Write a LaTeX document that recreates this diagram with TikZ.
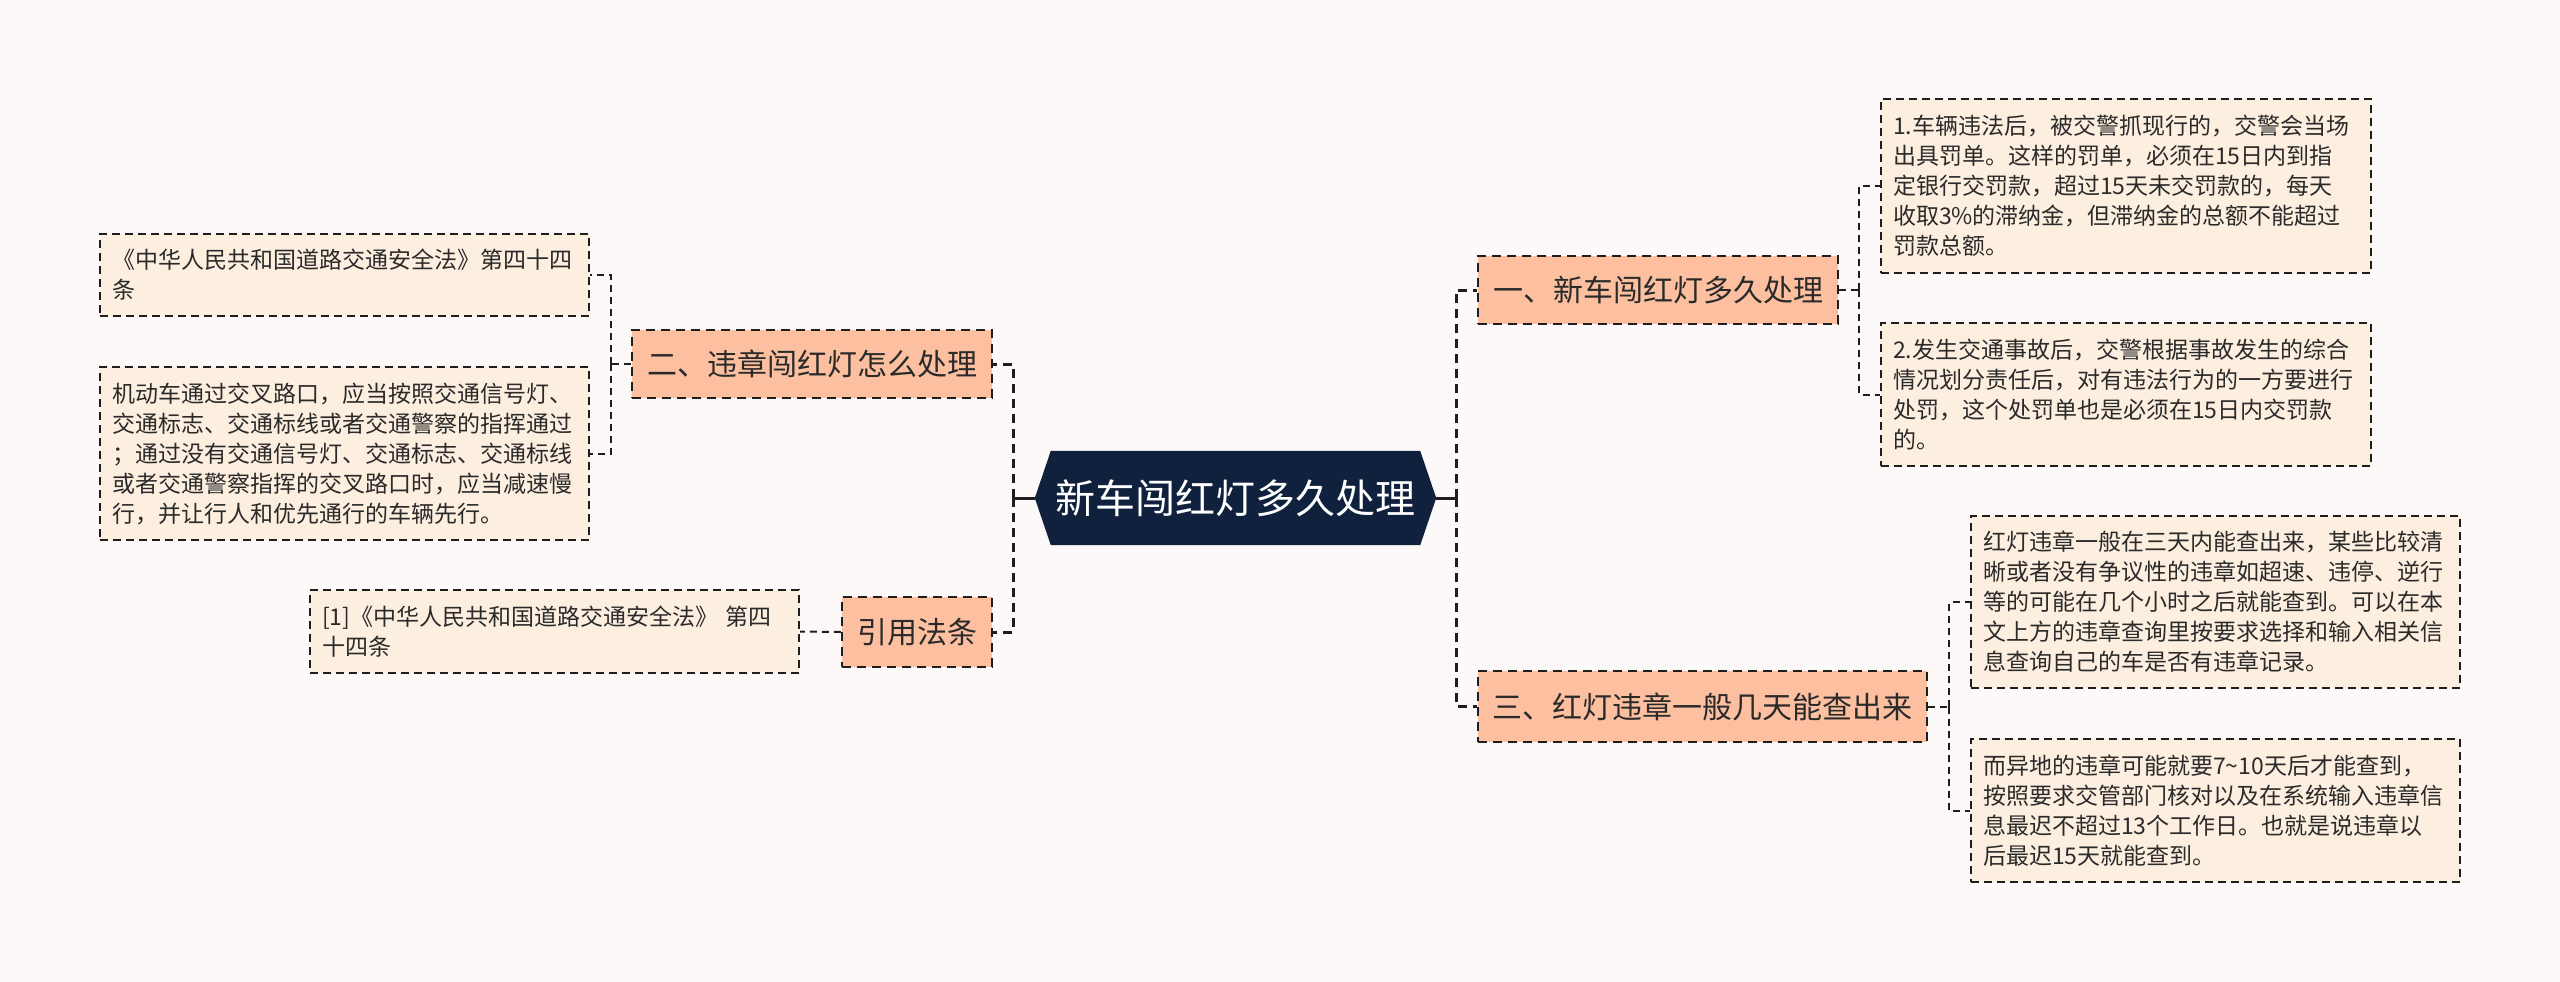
\documentclass[tikz,border=0pt]{standalone}
\usepackage{fontspec}
\setmainfont{Noto Sans CJK SC}
\pgfdeclarelayer{background}
\pgfsetlayers{background,main}
\definecolor{bgc}{HTML}{FDF9F8}
\definecolor{lvlfill}{HTML}{FCC0A0}
\definecolor{leaffill}{HTML}{FDEFE0}
\definecolor{navyc}{HTML}{0F213D}
\definecolor{linec}{HTML}{1E1E1E}
\definecolor{txtc}{HTML}{2A2A2A}
\newcommand\leaffont{\fontsize{23}{30}\selectfont}
\newcommand\lvlfont{\fontsize{30}{36}\selectfont}
\newcommand\ctrfont{\fontsize{40}{48}\selectfont}
\tikzset{
  conn/.style={draw=linec, line width=3pt, dash pattern=on 9pt off 6pt},
  thinconn/.style={draw=linec, line width=2pt, dash pattern=on 7pt off 5pt},
  lvl/.style={draw=linec, fill=lvlfill, line width=2.4pt, dash pattern=on 9pt off 6pt,
    inner sep=0pt, font=\lvlfont, text=txtc},
  leaf/.style={draw=linec, fill=leaffill, line width=2.2pt, dash pattern=on 8pt off 5pt,
    inner xsep=12pt, inner ysep=0pt, align=left, font=\leaffont, text=txtc},
}
\begin{document}
\begin{tikzpicture}[x=1pt,y=-1pt]
\useasboundingbox (0,0) rectangle (2560,982);
\begin{pgfonlayer}{background}
\fill[bgc] (0,0) rectangle (2560,982);
\end{pgfonlayer}

% central node
\node[minimum width=401pt, minimum height=94pt, inner sep=0pt, font=\ctrfont, text=white] (c) at (1235.5,498) {新车闯红灯多久处理};
\begin{pgfonlayer}{background}
\fill[navyc] (c.west) -- ([xshift=16pt]c.north west) -- ([xshift=-16pt]c.north east) -- (c.east)
  -- ([xshift=-16pt]c.south east) -- ([xshift=16pt]c.south west) -- cycle;
\end{pgfonlayer}

% level 1
\node[lvl, minimum width=360pt, minimum height=68pt] (n1) at (1658,290) {一、新车闯红灯多久处理};
\node[lvl, minimum width=449pt, minimum height=71pt] (n3) at (1702.5,706.5) {三、红灯违章一般几天能查出来};
\node[lvl, minimum width=360pt, minimum height=68pt] (n2) at (812,364) {二、违章闯红灯怎么处理};
\node[lvl, minimum width=150pt, minimum height=70pt] (n4) at (917,632) {引用法条};

% leaves
\node[leaf, text width=466pt, minimum height=174pt] (l1) at (2126,186) {1.车辆违法后，被交警抓现行的，交警会当场\\出具罚单。这样的罚单，必须在15日内到指\\定银行交罚款，超过15天未交罚款的，每天\\收取3\%的滞纳金，但滞纳金的总额不能超过\\罚款总额。};
\node[leaf, text width=466pt, minimum height=143pt] (l2) at (2126,394.5) {2.发生交通事故后，交警根据事故发生的综合\\情况划分责任后，对有违法行为的一方要进行\\处罚，这个处罚单也是必须在15日内交罚款\\的。};
\node[leaf, text width=465pt, minimum height=172pt] (l3) at (2215.5,602) {红灯违章一般在三天内能查出来，某些比较清\\晰或者没有争议性的违章如超速、违停、逆行\\等的可能在几个小时之后就能查到。可以在本\\文上方的违章查询里按要求选择和输入相关信\\息查询自己的车是否有违章记录。};
\node[leaf, text width=465pt, minimum height=143pt] (l4) at (2215.5,810.5) {而异地的违章可能就要7\textasciitilde10天后才能查到，\\按照要求交管部门核对以及在系统输入违章信\\息最迟不超过13个工作日。也就是说违章以\\后最迟15天就能查到。};
\node[leaf, text width=465pt, minimum height=82pt] (la) at (344.5,275) {《中华人民共和国道路交通安全法》第四十四\\条};
\node[leaf, text width=465pt, minimum height=173pt] (lb) at (344.5,453.5) {机动车通过交叉路口，应当按照交通信号灯、\\交通标志、交通标线或者交通警察的指挥通过\\；通过没有交通信号灯、交通标志、交通标线\\或者交通警察指挥的交叉路口时，应当减速慢\\行，并让行人和优先通行的车辆先行。};
\node[leaf, text width=465pt, minimum height=83pt] (lr) at (554.5,631.5) {[1]《中华人民共和国道路交通安全法》 第四\\十四条};

% connectors: central
\coordinate (rb) at (1456,498);
\coordinate (lbus) at (1013,498);
\draw[draw=linec, line width=3pt] (c.east) -- (rb);
\draw[draw=linec, line width=3pt] (c.west) -- (lbus);
\draw[conn] (rb) |- (n1.west);
\draw[conn] (rb) |- (n3.west);
\draw[conn] (lbus) |- (n2.east);
\draw[conn] (lbus) |- (n4.east);

% connectors: level1 to leaves
\coordinate (b1) at (1859,290);
\draw[thinconn] (n1.east) -- (b1);
\draw[thinconn] (b1) |- (l1.west);
\draw[thinconn] (b1) |- (l2.west);
\coordinate (b3) at (1949,706.5);
\draw[thinconn] (n3.east) -- (b3);
\draw[thinconn] (b3) |- (l3.west);
\draw[thinconn] (b3) |- (l4.west);
\coordinate (b2) at (611,364);
\draw[thinconn] (n2.west) -- (b2);
\draw[thinconn] (b2) |- (la.east);
\draw[thinconn] (b2) |- (lb.east);
\draw[thinconn] (n4.west) -- (lr.east);
\end{tikzpicture}
\end{document}
